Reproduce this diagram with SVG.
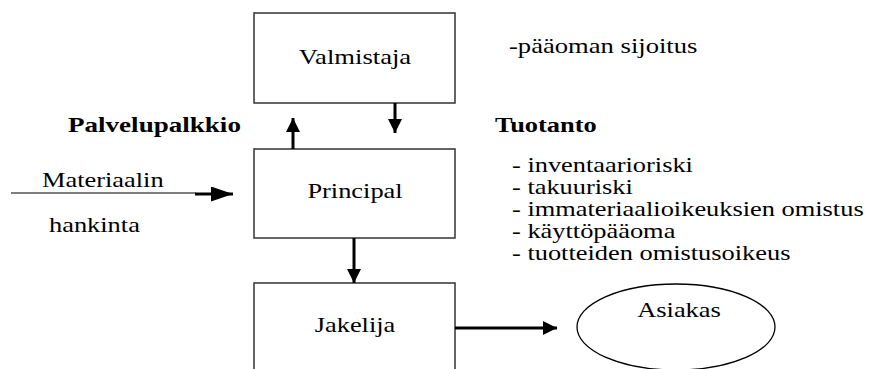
<svg xmlns="http://www.w3.org/2000/svg" width="873" height="369" viewBox="0 0 873 369">
<style>
.box{fill:#fff;stroke:#333;stroke-width:1.5}
text{font-family:'Liberation Serif','Times New Roman',serif;font-size:22px;fill:#000}
.b{font-weight:bold}
.m{text-anchor:middle}
.thick{stroke:#000;stroke-width:3;fill:none}
.thin{stroke:#000;stroke-width:1.2;fill:none}
</style>
<defs>
<marker id="ah" viewBox="0 0 14 14" refX="14" refY="7" markerWidth="14" markerHeight="14" markerUnits="userSpaceOnUse" orient="auto">
<path d="M0,0 L14,7 L0,14 z" fill="#000"/>
</marker>
<marker id="ahl" viewBox="0 0 22 15" refX="22" refY="7.5" markerWidth="22" markerHeight="15" markerUnits="userSpaceOnUse" orient="auto">
<path d="M0,0 L22,7.5 L0,15 z" fill="#000"/>
</marker>
</defs>
<rect width="873" height="369" fill="#fff"/>
<g id="valmistaja">
<rect class="box" x="254" y="13" width="201" height="90"/>
<text class="m" transform="translate(355,64) scale(1.21,1)">Valmistaja</text>
</g>
<g id="principal">
<rect class="box" x="254" y="149" width="201" height="89"/>
<text class="m" transform="translate(355,198) scale(1.2,1)">Principal</text>
</g>
<g id="jakelija">
<rect class="box" x="254" y="283" width="201" height="95"/>
<text class="m" transform="translate(355,332) scale(1.2,1)">Jakelija</text>
</g>
<g id="asiakas">
<ellipse cx="676" cy="327" rx="99" ry="43" fill="#fff" stroke="#000" stroke-width="1.3"/>
<text class="m" transform="translate(679,317) scale(1.2,1)">Asiakas</text>
</g>
<g id="connectors">
<line class="thick" x1="293" y1="149" x2="293" y2="118" marker-end="url(#ah)"/>
<line class="thick" x1="395" y1="103" x2="395" y2="133" marker-end="url(#ah)"/>
<line class="thick" x1="354" y1="238" x2="354" y2="283" marker-end="url(#ah)"/>
<line class="thick" x1="455" y1="328" x2="557" y2="328" marker-end="url(#ah)"/>
<line class="thin" x1="11" y1="193" x2="196" y2="193"/>
<line class="thick" x1="195" y1="194" x2="233" y2="194" marker-end="url(#ahl)"/>
</g>
<g id="labels">
<text transform="translate(509,53) scale(1.21,1)">-pääoman sijoitus</text>
<text class="b" transform="translate(68,132) scale(1.23,1)">Palvelupalkkio</text>
<text class="b" transform="translate(495,132) scale(1.2,1)">Tuotanto</text>
<text transform="translate(42,187) scale(1.2,1)">Materiaalin</text>
<text transform="translate(49,232) scale(1.2,1)">hankinta</text>
<text transform="translate(512,172) scale(1.2,1)">- inventaarioriski</text>
<text transform="translate(512,194) scale(1.2,1)">- takuuriski</text>
<text transform="translate(512,216) scale(1.2,1)">- immateriaalioikeuksien omistus</text>
<text transform="translate(512,238) scale(1.2,1)">- käyttöpääoma</text>
<text transform="translate(512,260) scale(1.2,1)">- tuotteiden omistusoikeus</text>
</g>
</svg>
